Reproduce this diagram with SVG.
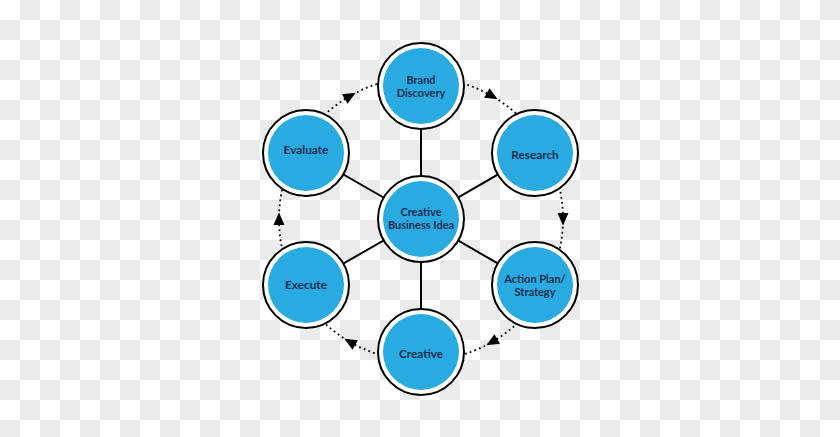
<svg xmlns="http://www.w3.org/2000/svg" width="840" height="437" viewBox="0 0 840 437">
<defs>
<pattern id="checker" x="0" y="0" width="40" height="40" patternUnits="userSpaceOnUse">
<rect width="40" height="40" fill="#ffffff"/>
<rect x="20" y="0" width="20" height="20" fill="#ebebeb"/>
<rect x="0" y="20" width="20" height="20" fill="#ebebeb"/>
</pattern>
<marker id="arrow" markerUnits="userSpaceOnUse" markerWidth="16" markerHeight="16" viewBox="-8 -8 16 16" refX="0" refY="0" orient="auto">
<path d="M-6,-5.5 L6.5,0 L-6,5.5 Z" fill="#000"/>
</marker>
<style>
.ring{fill:#ffffff;stroke:#000;stroke-width:2}
.core{fill:#29abe2}
.lbl{font-family:Lato,"Open Sans","Liberation Sans",sans-serif;font-weight:bold;font-size:11.8px;fill:#0e2c4e;text-anchor:middle}
.lbl2{font-family:Lato,"Open Sans","Liberation Sans",sans-serif;font-weight:bold;font-size:11px;fill:#0e2c4e;text-anchor:middle}
.spoke{stroke:#000;stroke-width:2;fill:none}
.cycle{stroke:#000;stroke-width:1.8;fill:none;stroke-dasharray:1.8 3.2;marker-mid:url(#arrow)}
</style>
</defs>
<rect width="840" height="437" fill="url(#checker)"/>
<g id="connectors">
<line class="spoke" x1="421" y1="219" x2="421" y2="86"/>
<line class="spoke" x1="421" y1="219" x2="535" y2="153"/>
<line class="spoke" x1="421" y1="219" x2="535" y2="285"/>
<line class="spoke" x1="421" y1="219" x2="421" y2="352"/>
<line class="spoke" x1="421" y1="219" x2="306" y2="285"/>
<line class="spoke" x1="421" y1="219" x2="306" y2="153"/>
<path class="cycle" d="M462.52,83.21 A142,142 0 0 1 492,96.03 A142,142 0 0 1 517.84,115.14"/>
<path class="cycle" d="M559.36,187.05 A142,142 0 0 1 563,219 A142,142 0 0 1 559.36,250.95"/>
<path class="cycle" d="M517.84,322.86 A142,142 0 0 1 492,341.97 A142,142 0 0 1 462.52,354.79"/>
<path class="cycle" d="M379.48,354.79 A142,142 0 0 1 350,341.97 A142,142 0 0 1 324.16,322.86"/>
<path class="cycle" d="M282.64,250.95 A142,142 0 0 1 279,219 A142,142 0 0 1 282.64,187.05"/>
<path class="cycle" d="M324.16,115.14 A142,142 0 0 1 350,96.03 A142,142 0 0 1 379.48,83.21"/>
</g>
<g id="node-brand">
<circle class="ring" cx="421" cy="86" r="43"/>
<circle class="core" cx="421" cy="86" r="38"/>
<text class="lbl2" x="421" y="84"><tspan x="421">Brand</tspan><tspan x="421" dy="13.2">Discovery</tspan></text>
</g>
<g id="node-research">
<circle class="ring" cx="535" cy="153" r="43"/>
<circle class="core" cx="535" cy="153" r="38"/>
<text class="lbl" x="535" y="159">Research</text>
</g>
<g id="node-action">
<circle class="ring" cx="535" cy="285" r="43"/>
<circle class="core" cx="535" cy="285" r="38"/>
<text class="lbl2" x="535" y="283"><tspan x="535">Action Plan/</tspan><tspan x="535" dy="13.2">Strategy</tspan></text>
</g>
<g id="node-creative">
<circle class="ring" cx="421" cy="352" r="43"/>
<circle class="core" cx="421" cy="352" r="38"/>
<text class="lbl" x="421" y="358">Creative</text>
</g>
<g id="node-execute">
<circle class="ring" cx="306" cy="285" r="43"/>
<circle class="core" cx="306" cy="285" r="38"/>
<text class="lbl" x="306" y="289">Execute</text>
</g>
<g id="node-evaluate">
<circle class="ring" cx="306" cy="153" r="43"/>
<circle class="core" cx="306" cy="153" r="38"/>
<text class="lbl" x="306" y="154">Evaluate</text>
</g>
<g id="node-center">
<circle class="ring" cx="421" cy="219" r="43"/>
<circle class="core" cx="421" cy="219" r="38"/>
<text class="lbl2" x="421" y="215.5"><tspan x="421">Creative</tspan><tspan x="421" dy="13.2">Business Idea</tspan></text>
</g>
</svg>
